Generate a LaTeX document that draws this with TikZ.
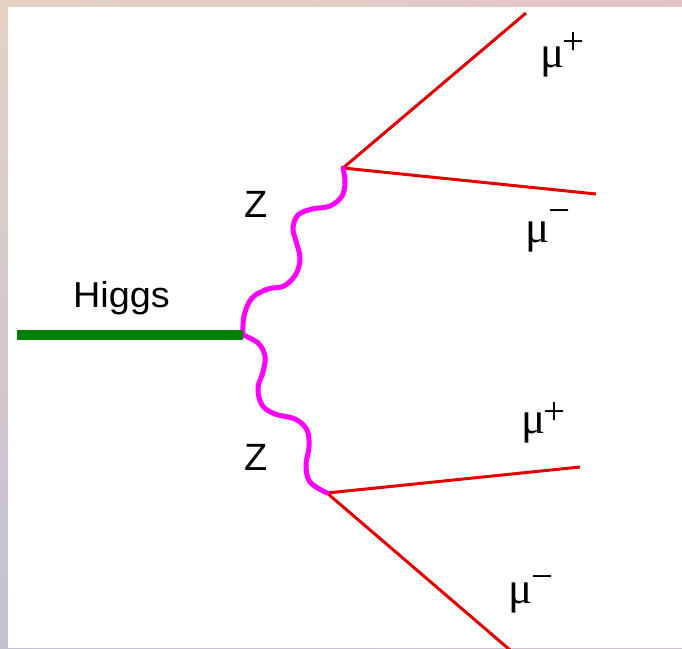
\documentclass[tikz,border=0pt]{standalone}
\usepackage{fontspec}
\usetikzlibrary{shadings}
\setmainfont{Liberation Sans}
\newfontfamily\muserif{Liberation Serif}
\definecolor{higgsgreen}{HTML}{008000}
\definecolor{zmag}{HTML}{FF00FF}
\definecolor{mured}{HTML}{E20000}
\definecolor{bgul}{RGB}{228,210,196}
\definecolor{bgur}{RGB}{226,196,196}
\definecolor{bgll}{RGB}{196,192,212}
\definecolor{bglr}{RGB}{206,194,208}
\newcommand{\mulab}[3]{{\muserif\fontsize{45}{45}\selectfont μ}\kern#3pt\raisebox{#1pt}{\muserif\fontsize{39}{39}\selectfont #2}}
\begin{document}
\begin{tikzpicture}[x=1pt,y=-1pt,
  higgsline/.style={draw=higgsgreen, line width=10pt},
  zwave/.style={draw=zmag, line width=5pt, line cap=round, line join=round},
  muline/.style={draw=mured, line width=3pt},
  lab/.style={inner sep=0pt, font=\fontsize{36}{36}\selectfont},
  zlab/.style={inner sep=0pt, font=\fontsize{38}{38}\selectfont},
  mulabel/.style={inner sep=0pt, anchor=base west}]
\useasboundingbox (0,0) rectangle (682,648);
\shade[upper left=bgul, upper right=bgur, lower left=bgll, lower right=bglr] (0,0) rectangle (682,648);
\fill[white] (8,7) rectangle (682,648);

\coordinate (hstart) at (17,335);
\coordinate (v) at (243,335);
\coordinate (zu) at (343,168);
\coordinate (zl) at (327,493);
\coordinate (m1) at (526,13);
\coordinate (m2) at (596,194);
\coordinate (m3) at (580,467);
\coordinate (m4) at (510,650);

\draw[muline] (zu) -- (m1);
\draw[muline] (zu) -- (m2);
\draw[muline] (zl) -- (m3);
\draw[muline] (zl) -- (m4);

\draw[zwave] plot[smooth, tension=0.6] coordinates {(v) (244,316) (252,298) (268,289) (284,286) (296,274) (300,258) (296,241) (293,228) (298,215) (312,209) (330,206) (342,196) (345,182) (zu)};
\draw[zwave] plot[smooth, tension=0.6] coordinates {(v) (258,343) (265,356) (263,372) (258,388) (262,405) (275,414) (295,419) (307,430) (309,447) (306,465) (310,482) (zl)};

\draw[higgsline] (hstart) -- (v);

\node[lab, anchor=base] (higgs) at (121.5,307) {\scalebox{1.05}[1]{Higgs}};
\node[zlab, anchor=base] (z1) at (256,217) {Z};
\node[zlab, anchor=base] (z2) at (256.5,470) {Z};

\node[mulabel] (mu1) at (540,67) {\mulab{13}{+}{-2}};
\node[mulabel] (mu2) at (525,242) {\mulab{19}{−}{-1}};
\node[mulabel] (mu3) at (521,433) {\mulab{9}{+}{-2}};
\node[mulabel] (mu4) at (508,603) {\mulab{14}{−}{-1}};
\end{tikzpicture}
\end{document}
